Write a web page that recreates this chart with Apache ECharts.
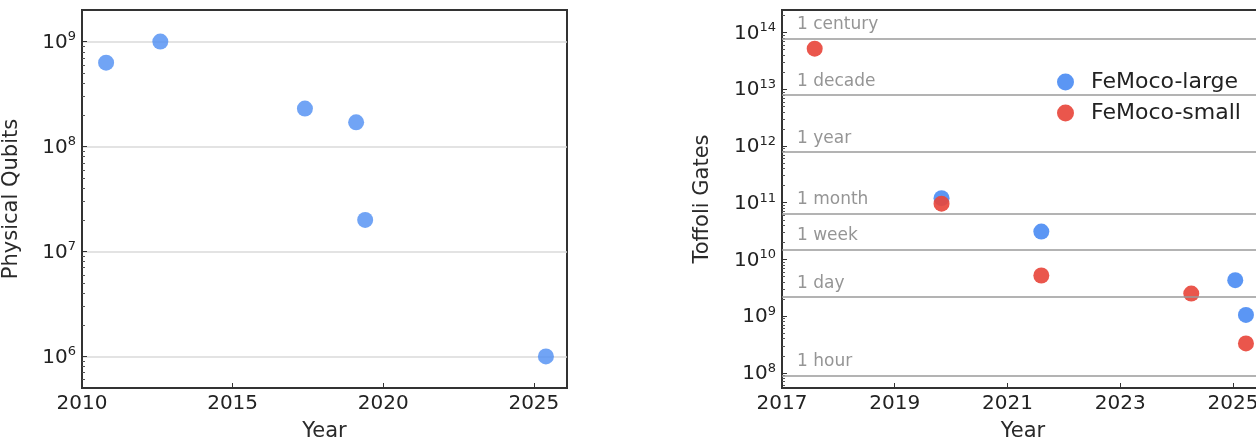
<!DOCTYPE html>
<html>
<head>
<meta charset="utf-8">
<script src="https://cdn.jsdelivr.net/npm/echarts@6/dist/echarts.min.js"></script>
<style>
  html, body { margin: 0; padding: 0; background: #fff; }
  #chart { width: 1256px; height: 441px; }
</style>
</head>
<body>
<div id="chart"></div>
<script>
// left panel: physical qubits estimates
const qubitYears = [2010.8, 2012.6, 2017.4, 2019.1, 2019.4, 2025.4]
const qubitValues = [6.3e8, 1.0e9, 2.3e8, 1.7e8, 2.0e7, 1.0e6]

// right panel: Toffoli gate counts
const largeYears = [2019.83, 2021.6, 2025.04, 2025.23]
const largeValues = [1.2e11, 3.1e10, 4.3e9, 1.05e9]
const smallYears = [2017.58, 2019.83, 2021.6, 2024.26, 2025.23]
const smallValues = [5.2e13, 9.6e10, 5.2e9, 2.5e9, 3.3e8]

// runtime reference lines
const timeLabels = ['1 hour', '1 day', '1 week', '1 month', '1 year', '1 decade', '1 century']
const timeGates = [9.0e7, 2.16e9, 1.5e10, 6.5e10, 7.9e11, 7.9e12, 7.9e13]

const FONT = 'DejaVu Sans'
const BLUE = '#4d8df3'
const RED = '#e8483d'
const INK = '#222'

const zip = (xs, ys) => xs.map((x, i) => [x, ys[i]])

// only label whole powers of ten, as 10^n
const powLabel = v => {
  const l = Math.log10(v)
  const e = Math.round(l)
  if (Math.abs(l - e) > 1e-6) return ''
  return '{b|10}{s|' + e + '}'
}

const powRich = {
  b: { fontSize: 20, color: INK, fontFamily: FONT, verticalAlign: 'bottom' },
  s: { fontSize: 13, color: INK, fontFamily: FONT, verticalAlign: 'bottom', padding: [0, 0, 9, 0] },
}

const xAxisBase = {
  type: 'value',
  name: 'Year',
  nameLocation: 'middle',
  nameGap: 40,
  nameTextStyle: { fontSize: 21, color: '#2a2a2a', fontFamily: FONT },
  axisLine: { show: true, lineStyle: { color: '#333', width: 2 } },
  axisTick: { show: true, inside: true, length: 5, lineStyle: { color: '#333' } },
  axisLabel: {
    fontSize: 20, color: INK, fontFamily: FONT, margin: 6,
    showMaxLabel: false,
    formatter: v => String(v),
  },
  splitLine: { show: false },
}

const yAxisBase = {
  type: 'log',
  logBase: 10,
  nameLocation: 'middle',
  nameTextStyle: { fontSize: 21, color: '#2a2a2a', fontFamily: FONT },
  axisLine: { show: true, lineStyle: { color: '#333', width: 2 } },
  axisTick: { show: true, inside: true, length: 5, lineStyle: { color: '#333' } },
  minorTick: { show: true, splitNumber: 9, length: 3, lineStyle: { color: '#555' } },
  axisLabel: { margin: 6, formatter: powLabel, rich: powRich },
}

const chart = echarts.init(document.getElementById('chart'))

chart.setOption({
  animation: false,
  grid: [
    { left: 82, top: 10, width: 485, height: 378, show: true, borderColor: '#333', borderWidth: 2, outerBoundsMode: 'none' },
    { left: 782, top: 10, width: 482, height: 378, show: true, borderColor: '#333', borderWidth: 2, outerBoundsMode: 'none' },
  ],
  xAxis: [
    { ...xAxisBase, gridIndex: 0, min: 2010, max: 2026.1, interval: 5, nameGap: 33 },
    { ...xAxisBase, gridIndex: 1, min: 2017, max: 2025.55, interval: 2, nameGap: 33 },
  ],
  yAxis: [
    {
      ...yAxisBase, gridIndex: 0, min: 5e5, max: 2e9,
      name: 'Physical Qubits', nameGap: 60,
      splitLine: {
        show: true, showMinLine: false, showMaxLine: false,
        lineStyle: { color: '#dadada', width: 1.5 },
      },
    },
    {
      ...yAxisBase, gridIndex: 1, min: 5.4e7, max: 2.5e14,
      name: 'Toffoli Gates', nameGap: 69,
      splitLine: { show: false },
    },
  ],
  legend: {
    orient: 'vertical',
    left: 1052,
    top: 66,
    icon: 'circle',
    itemWidth: 17,
    itemHeight: 17,
    itemGap: 9,
    textStyle: { fontSize: 22, color: INK, fontFamily: FONT, padding: [0, 0, 0, 12] },
    data: ['FeMoco-large', 'FeMoco-small'],
  },
  series: [
    {
      type: 'scatter',
      xAxisIndex: 0, yAxisIndex: 0,
      data: zip(qubitYears, qubitValues),
      symbolSize: 16,
      itemStyle: { color: BLUE },
    },
    {
      name: 'FeMoco-large',
      type: 'scatter',
      xAxisIndex: 1, yAxisIndex: 1,
      data: zip(largeYears, largeValues),
      symbolSize: 16,
      itemStyle: { color: BLUE, opacity: 0.92 },
      markLine: {
        silent: true,
        symbol: 'none',
        animation: false,
        lineStyle: { color: '#9a9a9a', width: 1.5, type: 'solid' },
        label: {
          show: true,
          position: 'insideStartTop',
          formatter: p => p.name,
          color: '#959595',
          fontSize: 17,
          fontFamily: FONT,
          distance: [15, 5],
        },
        data: timeGates.map((g, i) => ({ yAxis: g, name: timeLabels[i] })),
      },
    },
    {
      name: 'FeMoco-small',
      type: 'scatter',
      xAxisIndex: 1, yAxisIndex: 1,
      data: zip(smallYears, smallValues),
      symbolSize: 16,
      itemStyle: { color: RED, opacity: 0.92 },
    },
  ],
})
</script>
</body>
</html>
